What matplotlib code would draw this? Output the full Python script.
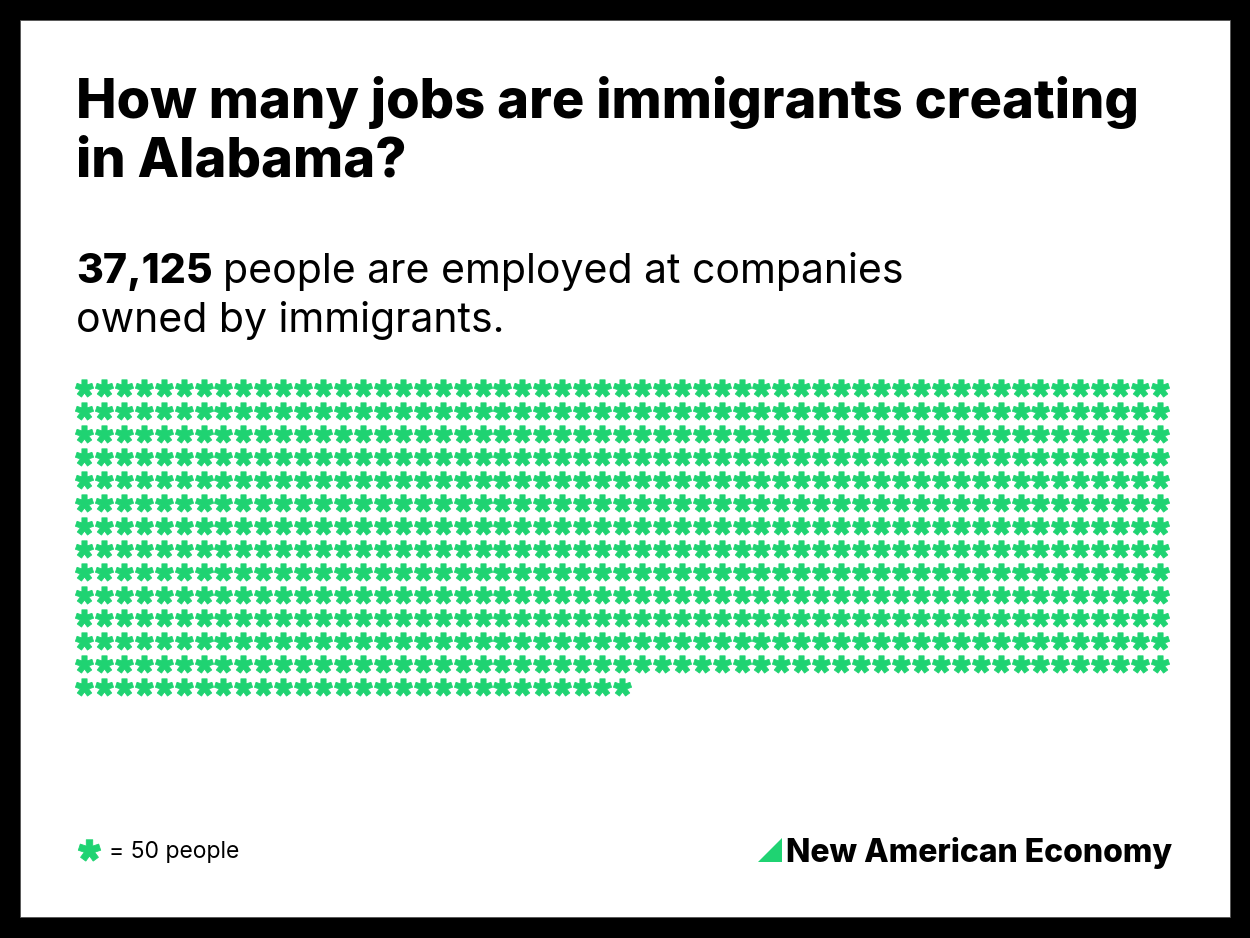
import math
import numpy as np
import matplotlib
matplotlib.use("Agg")
import matplotlib.pyplot as plt
from matplotlib.patches import Rectangle, Polygon
from matplotlib.path import Path

# data
state = "Alabama"
employed = 37125
people_per_icon = 50
n_cols = 55

n_icons = math.ceil(employed / people_per_icon)
cols = [i % n_cols for i in range(n_icons)]
rows = [i // n_cols for i in range(n_icons)]
n_rows = max(rows) + 1

GREEN = "#1fd372"
W, H = 1250, 938
FONT = ["Inter", "DejaVu Sans"]


def asterisk(arm_len=1.0, half_w=0.3, n=5):
    # filled n-arm asterisk, one arm pointing up
    verts = []
    step = 2 * np.pi / n
    for k in range(n):
        th = np.pi / 2 + k * step
        d = np.array([np.cos(th), np.sin(th)])
        p = np.array([-np.sin(th), np.cos(th)])
        verts.append(arm_len * d - half_w * p)
        verts.append(arm_len * d + half_w * p)
        mid = th + step / 2
        rin = half_w / np.sin(step / 2)
        verts.append([rin * np.cos(mid), rin * np.sin(mid)])
    verts.append(verts[0])
    return Path(np.array(verts), closed=True)


STAR = asterisk()

fig = plt.figure(figsize=(W / 100, H / 100), dpi=100)
fig.patch.set_facecolor("black")
fig.patches.append(Rectangle((20 / W, 21 / H), 1210 / W, 897 / H, transform=fig.transFigure,
                             facecolor="white", edgecolor="#555555", linewidth=0.6, zorder=-10))


def fx(px):
    return px / W


def fy(py):
    return 1 - py / H


fig.text(fx(76), fy(118), "How many jobs are immigrants creating", fontsize=39, fontweight="heavy",
         family=FONT, va="baseline", ha="left")
fig.text(fx(76), fy(176), f"in {state}?", fontsize=39, fontweight="heavy",
         family=FONT, va="baseline", ha="left")

# subtitle with bold number
r = fig.canvas.get_renderer()
t = fig.text(fx(76), fy(283), f"{employed:,}", fontsize=29.5, fontweight="heavy", family=FONT,
             va="baseline", ha="left")
bb = t.get_window_extent(renderer=r)
fig.text(bb.x1 / W + 0.008, fy(283), "people are employed at companies", fontsize=29.5,
         family=FONT, va="baseline", ha="left")
fig.text(fx(76), fy(332), "owned by immigrants.", fontsize=29.5, family=FONT,
         va="baseline", ha="left")

# icon grid
ax = fig.add_axes([fx(74), fy(698), 1096 / W, 321 / H])
ax.scatter(cols, rows, marker=STAR, s=170, linewidths=0.6, edgecolors=GREEN, color=GREEN)
ax.set_xlim(-0.5, n_cols - 0.5)
ax.set_ylim(n_rows - 0.5, -0.5)
ax.axis("off")

# legend
lax = fig.add_axes([0, 0, 1, 1], facecolor="none")
lax.set_xlim(0, W)
lax.set_ylim(H, 0)
lax.axis("off")
lax.scatter([89], [850], marker=STAR, s=260, linewidths=0.6, edgecolors=GREEN, color=GREEN)
fig.text(fx(109), fy(858), f"= {people_per_icon} people", fontsize=16.5, family=FONT,
         va="baseline", ha="left")

# logo
lax.add_patch(Polygon([(758, 862), (782, 838), (782, 862)], closed=True, facecolor=GREEN,
                      edgecolor="none"))
fig.text(fx(786), fy(862), "New American Economy", fontsize=23, fontweight="heavy",
         family=FONT, va="baseline", ha="left")

fig.savefig("out.png", dpi=100, facecolor=fig.get_facecolor())
